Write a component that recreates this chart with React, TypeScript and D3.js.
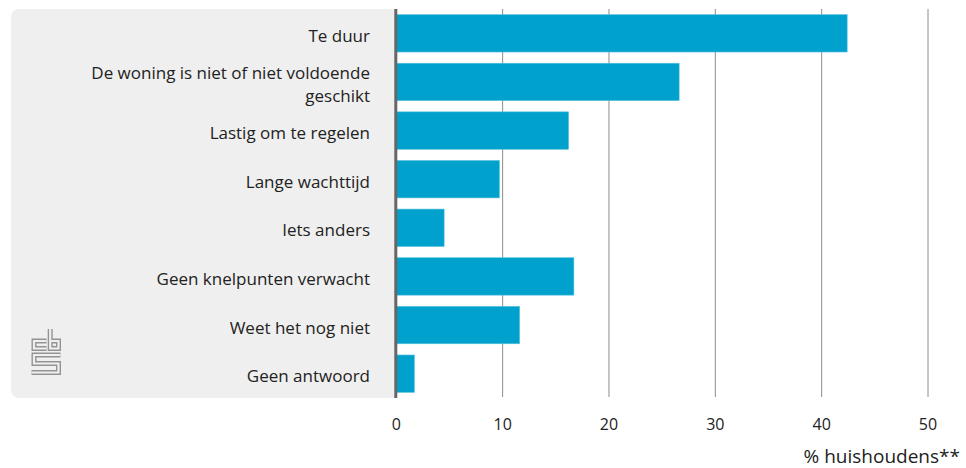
import React from "react";
import * as d3 from "d3";

const categories = [
  "Te duur",
  "De woning is niet of niet voldoende geschikt",
  "Lastig om te regelen",
  "Lange wachttijd",
  "Iets anders",
  "Geen knelpunten verwacht",
  "Weet het nog niet",
  "Geen antwoord",
];
const values = [42.4, 26.6, 16.2, 9.7, 4.5, 16.7, 11.6, 1.7];
const xTicks = [0, 10, 20, 30, 40, 50];
const xAxisTitle = "% huishoudens**";

const W = 966;
const H = 468;
const FONT = "'Open Sans', sans-serif";

function wrap(label: string, maxChars: number): string[] {
  const words = label.split(" ");
  const lines: string[] = [];
  let cur = "";
  for (const w of words) {
    const next = cur ? cur + " " + w : w;
    if (next.length > maxChars && cur) {
      lines.push(cur);
      cur = w;
    } else cur = next;
  }
  if (cur) lines.push(cur);
  return lines;
}

export default function App() {
  const x = d3.scaleLinear().domain([0, 50]).range([396.3, 928]);
  const y = d3
    .scaleBand<string>()
    .domain(categories)
    .range([9, 398])
    .paddingInner(0.23)
    .paddingOuter(0.115);
  const top = 9;
  const bottom = 398;
  const lineH = 22.7;

  const logoOutline = "#939393";
  const panel = "#efefef";
  const logoPaths = [
    "M15,12 H2.5 V19.5 H15",
    "M18.7,0 V19.5 H27 V12 H18.7",
    "M29,26 H2.5 V34.5 H27 V43.5 H0",
  ];

  return (
    <svg width={W} height={H} style={{ position: "absolute", left: 0, top: 0 }}>
      <path
        d={`M${x(0)},${top} H19 A8,8 0 0 0 11,${top + 8} V${bottom - 8} A8,8 0 0 0 19,${bottom} H${x(0)} Z`}
        fill={panel}
      />
      {xTicks.slice(1).map((t) => (
        <line key={t} x1={x(t)} x2={x(t)} y1={top} y2={bottom - 1} stroke="#8c8c8c" strokeWidth={1} />
      ))}
      {categories.map((c, i) => (
        <rect
          key={c}
          x={x(0)}
          y={y(c)!}
          width={x(values[i]) - x(0)}
          height={y.bandwidth()}
          fill="#00a1cd"
          stroke="#5cc3e0"
          strokeWidth={0.6}
        />
      ))}
      <line x1={x(0) - 0.5} x2={x(0) - 0.5} y1={top} y2={bottom} stroke="#666" strokeWidth={3} />
      {categories.map((c) => {
        const lines = wrap(c, 36);
        const cy = y(c)! + y.bandwidth() / 2;
        const first = cy - ((lines.length - 1) * lineH) / 2;
        return (
          <text
            key={c}
            x={370}
            textAnchor="end"
            fontFamily={FONT}
            fontSize={17}
            fill="#222"
          >
            {lines.map((l, k) => (
              <tspan key={k} x={370} y={first + k * lineH + 8.5}>
                {l}
              </tspan>
            ))}
          </text>
        );
      })}
      {xTicks.map((t) => (
        <text key={t} x={x(t)} y={430} textAnchor="middle" fontFamily={FONT} fontSize={16} fill="#222">
          {t}
        </text>
      ))}
      <text x={960} y={463} textAnchor="end" fontFamily={FONT} fontSize={19} fill="#222">
        {xAxisTitle}
      </text>
      <g transform="translate(31.5,329)" fill="none" strokeLinejoin="miter" strokeLinecap="butt">
        {logoPaths.map((d, i) => (
          <path key={"o" + i} d={d} stroke={logoOutline} strokeWidth={5} />
        ))}
        {logoPaths.map((d, i) => (
          <path key={"i" + i} d={d} stroke={panel} strokeWidth={2.2} />
        ))}
      </g>
    </svg>
  );
}
